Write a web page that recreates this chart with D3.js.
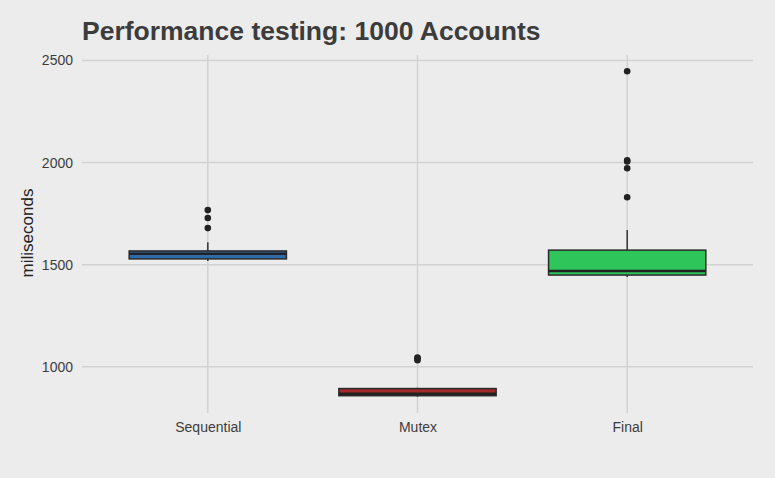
<!doctype html>
<html lang="en">
<head>
<meta charset="utf-8">
<title>Performance testing: 1000 Accounts</title>
<script src="https://d3js.org/d3.v7.min.js"></script>
<style>
  html, body { margin: 0; padding: 0; background: #ececec; }
  body { font-family: "Liberation Sans", Arial, Helvetica, sans-serif; }
</style>
</head>
<body>
<div id="chart"></div>
<script>
// Data (milliseconds)
const categories = ['Sequential', 'Mutex', 'Final'];
const whiskerLow = [1518, 853, 1440];
const q1 = [1528, 858, 1449];
const median = [1553, 867, 1469];
const q3 = [1567, 893, 1571];
const whiskerHigh = [1610, 897, 1669];
const outliers = [
  [1679, 1728, 1767],
  [1032, 1040, 1045],
  [1830, 1972, 2005, 2011, 2447]
];
const fills = ['#2f6aa8', '#a3282b', '#2ec55b'];
const yTicks = [1000, 1500, 2000, 2500];

const W = 775, H = 478;
const margin = {top: 55, right: 22, bottom: 65, left: 82};
const width = W - margin.left - margin.right,
      height = H - margin.top - margin.bottom;

const svg = d3.select('#chart').append('svg')
  .attr('width', W)
  .attr('height', H)
  .style('display', 'block');

svg.append('rect')
  .attr('width', W).attr('height', H)
  .attr('fill', '#ececec');

const g = svg.append('g')
  .attr('transform', 'translate(' + margin.left + ',' + margin.top + ')');

// Scales (ggplot style expansion)
const allVals = whiskerLow.concat(whiskerHigh, outliers.flat());
const lo = d3.min(allVals), hi = d3.max(allVals), pad = (hi - lo) * 0.05;
const y = d3.scaleLinear()
  .domain([lo - pad, hi + pad])
  .range([height, 0]);

const x = d3.scalePoint()
  .domain(categories)
  .range([0, width])
  .padding(0.6); // 0.6 units each side
const step = x.step();
const boxW = step * 0.75;

// Grid
g.append('g')
  .selectAll('line')
  .data(yTicks)
  .join('line')
  .attr('x1', 0).attr('x2', width)
  .attr('y1', d => y(d)).attr('y2', d => y(d))
  .attr('stroke', '#d2d2d2')
  .attr('stroke-width', 1.5);

g.append('g')
  .selectAll('line')
  .data(categories)
  .join('line')
  .attr('x1', d => x(d)).attr('x2', d => x(d))
  .attr('y1', 0).attr('y2', height)
  .attr('stroke', '#d2d2d2')
  .attr('stroke-width', 1.5);

// Axes (text only)
const yAxis = g.append('g')
  .call(d3.axisLeft(y).tickValues(yTicks).tickFormat(d3.format('d')).tickSize(0).tickPadding(9));
yAxis.select('.domain').remove();
yAxis.selectAll('text')
  .attr('fill', '#3c3c3c')
  .style('font-size', '14px')
  .style('font-family', '"Liberation Sans", Arial, sans-serif');

const xAxis = g.append('g')
  .attr('transform', 'translate(0,' + height + ')')
  .call(d3.axisBottom(x).tickSize(0).tickPadding(9));
xAxis.select('.domain').remove();
xAxis.selectAll('text')
  .attr('fill', '#3c3c3c')
  .style('font-size', '14px')
  .style('font-family', '"Liberation Sans", Arial, sans-serif');

// Boxes
const boxes = g.append('g')
  .selectAll('g')
  .data(categories.map((c, i) => ({c, i})))
  .join('g')
  .attr('transform', d => 'translate(' + x(d.c) + ',0)');

// whiskers
boxes.append('line')
  .attr('x1', 0).attr('x2', 0)
  .attr('y1', d => y(q3[d.i])).attr('y2', d => y(whiskerHigh[d.i]))
  .attr('stroke', '#333').attr('stroke-width', 1.5);
boxes.append('line')
  .attr('x1', 0).attr('x2', 0)
  .attr('y1', d => y(q1[d.i])).attr('y2', d => y(whiskerLow[d.i]))
  .attr('stroke', '#333').attr('stroke-width', 1.5);

boxes.append('rect')
  .attr('x', -boxW / 2)
  .attr('width', boxW)
  .attr('y', d => y(q3[d.i]))
  .attr('height', d => y(q1[d.i]) - y(q3[d.i]))
  .attr('fill', d => fills[d.i])
  .attr('stroke', '#2a2a2a')
  .attr('stroke-width', 1.5);

boxes.append('line')
  .attr('x1', -boxW / 2).attr('x2', boxW / 2)
  .attr('y1', d => y(median[d.i])).attr('y2', d => y(median[d.i]))
  .attr('stroke', '#222')
  .attr('stroke-width', 2.5);

boxes.selectAll('circle')
  .data(d => outliers[d.i])
  .join('circle')
  .attr('cx', 0)
  .attr('cy', d => y(d))
  .attr('r', 3.3)
  .attr('fill', '#222');

// Y label
svg.append('text')
  .attr('transform', 'translate(33,' + (margin.top + 178) + ') rotate(-90)')
  .attr('text-anchor', 'middle')
  .attr('fill', '#222')
  .style('font-size', '17px')
  .text('miliseconds');

// Title
svg.append('text')
  .attr('x', 82)
  .attr('y', 40)
  .attr('fill', '#3c3c3c')
  .style('font-size', '26.5px')
  .style('font-weight', 'bold')
  .text('Performance testing: 1000 Accounts');
</script>
</body>
</html>
